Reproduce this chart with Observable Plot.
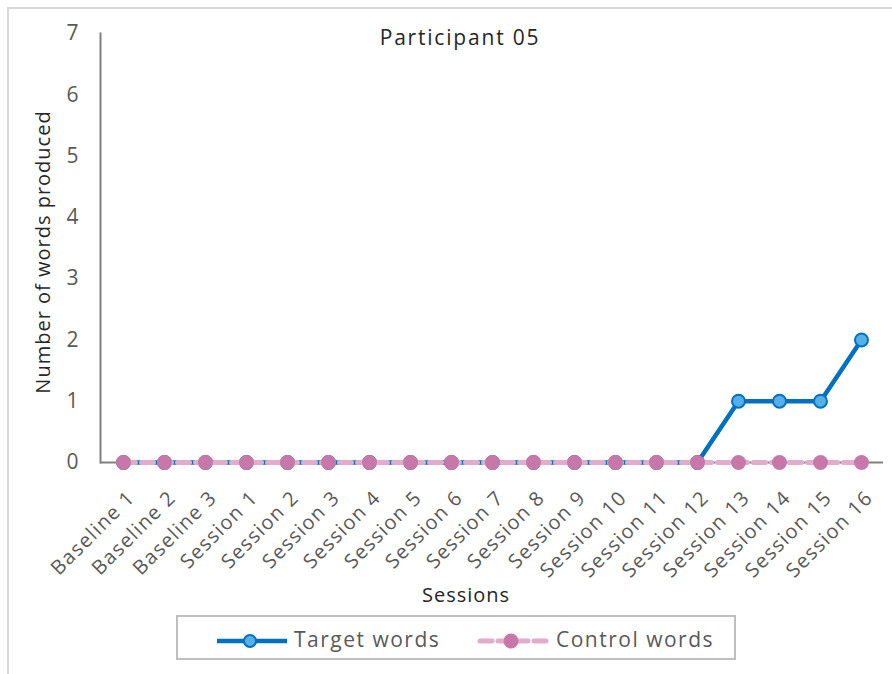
<!DOCTYPE html>
<html><head><meta charset="utf-8">
<script src="https://cdn.jsdelivr.net/npm/d3@7"></script>
<script src="https://cdn.jsdelivr.net/npm/@observablehq/plot@0.6"></script>
<style>
body{margin:0;background:#fff;font-family:"Open Sans",sans-serif;}
#wrap{position:relative;width:892px;height:674px;overflow:hidden;background:#fff;}
#border{position:absolute;left:7px;top:7px;width:900px;height:700px;border-left:2px solid #d9d9d9;border-top:2px solid #d9d9d9;}
#chart{position:absolute;left:0;top:0;}
#chart g[aria-label="y-axis tick label"] text{font-size:21px;}
#chart g[aria-label="x-axis tick label"] text{font-size:20px;letter-spacing:1.4px;}
.lab{position:absolute;white-space:nowrap;color:#262626;font-size:20px;letter-spacing:1px;}
#title{left:460px;top:23px;transform:translateX(-50%);font-size:21px;letter-spacing:1.8px;}
#ytitle{left:42px;top:252px;transform:translate(-50%,-50%) rotate(-90deg);}
#xtitle{left:466px;top:581px;transform:translateX(-50%);}
#legend{position:absolute;left:176px;top:615px;width:560px;height:45px;border:2px solid #bfbfbf;box-sizing:border-box;}
.li{position:absolute;top:8px;font-size:21px;color:#595959;letter-spacing:1.5px;}
</style></head><body>
<div id="wrap">
  <div id="border"></div>
  <div id="chart"></div>
  <div class="lab" id="title">Participant 05</div>
  <div class="lab" id="ytitle">Number of words produced</div>
  <div class="lab" id="xtitle">Sessions</div>
  <div id="legend">
    <svg width="560" height="45" style="position:absolute;left:0;top:0">
      <line x1="39" x2="109" y1="24" y2="24" stroke="#0070C0" stroke-width="4.5"/>
      <circle cx="72" cy="24" r="6" fill="#56B0E8" stroke="#0070C0" stroke-width="2"/>
      <line x1="302" x2="372" y1="24" y2="24" stroke="#E2ACCD" stroke-width="5" stroke-dasharray="12,6" stroke-linecap="round"/>
      <circle cx="333" cy="24" r="7.5" fill="#C878A8"/>
    </svg>
    <div class="li" style="left:116px">Target words</div>
    <div class="li" style="left:378px">Control words</div>
  </div>
</div>
<script>
const sessions = ["Baseline 1","Baseline 2","Baseline 3","Session 1","Session 2","Session 3","Session 4","Session 5","Session 6","Session 7","Session 8","Session 9","Session 10","Session 11","Session 12","Session 13","Session 14","Session 15","Session 16"];
const targetWords = [0,0,0,0,0,0,0,0,0,0,0,0,0,0,0,1,1,1,2];
const controlWords = [0,0,0,0,0,0,0,0,0,0,0,0,0,0,0,0,0,0,0];
const yTicks = [0,1,2,3,4,5,6,7];

const data = sessions.map((s,i)=>({session:s, target:targetWords[i], control:controlWords[i]}));

const plot = Plot.plot({
  width: 892, height: 674,
  marginTop: 33, marginBottom: 212, marginLeft: 100, marginRight: 9,
  style: {fontFamily: "Open Sans, sans-serif", background: "transparent"},
  x: {type: "point", domain: sessions, padding: 0.5},
  y: {domain: [0,7]},
  marks: [
    Plot.frame({anchor: "left", stroke: "#808080", strokeWidth: 2}),
    Plot.ruleY([0], {stroke: "#808080", strokeWidth: 2}),
    Plot.axisY({ticks: yTicks, tickFormat: d3.format("d"), tickSize: 0, tickPadding: 22, fontSize: 21, fill: "#595959", label: null}),
    Plot.axisX({tickRotate: -45, tickSize: 0, tickPadding: 32, dx: 8, fontSize: 20, fill: "#595959", label: null}),
    Plot.line(data, {x: "session", y: "target", stroke: "#0070C0", strokeWidth: 4.5}),
    Plot.dot(data, {x: "session", y: "target", r: 6.5, fill: "#56B0E8", stroke: "#0070C0", strokeWidth: 2}),
    Plot.line(data, {x: "session", y: "control", stroke: "#E2ACCD", strokeWidth: 5, strokeDasharray: "12,6", strokeLinecap: "round"}),
    Plot.dot(data, {x: "session", y: "control", r: 7.5, fill: "#C878A8"})
  ]
});
document.getElementById("chart").appendChild(plot);
</script>
</body></html>
